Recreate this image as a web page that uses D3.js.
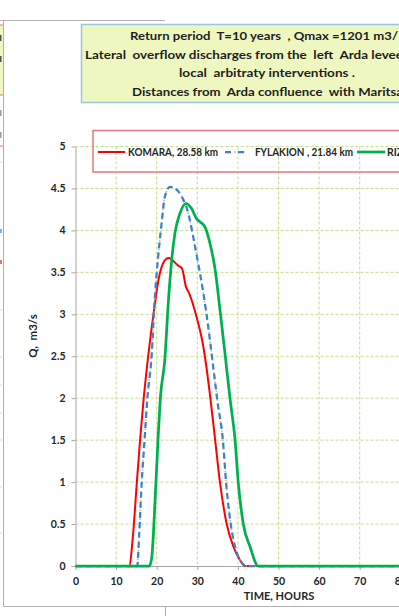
<!DOCTYPE html>
<html>
<head>
<meta charset="utf-8">
<script src="https://cdn.jsdelivr.net/npm/d3@7"></script>
<style>
  body { margin: 0; background: #fff; overflow: hidden; }
  svg { display: block; font-family: Lato, "Liberation Sans", sans-serif; }
  text { white-space: pre; }
</style>
</head>
<body>
<script>
'use strict';

// title lines (only the part that shows inside the window)
const titleLines = [
  'Return period  T=10 years  , Qmax =1201 m3/',
  'Lateral  overflow discharges from the  left  Arda levee',
  'local  arbitraty interventions .',
  'Distances from  Arda confluence  with Maritsa'
];
const legendNames = ['KOMARA, 28.58 km', 'FYLAKION , 21.84 km', 'RIZIA'];
const xTicks = [0, 10, 20, 30, 40, 50, 60, 70, 80];
const yTicks = [0, 0.5, 1, 1.5, 2, 2.5, 3, 3.5, 4, 4.5, 5];

// KOMARA, 28.58 km
const komaraTime = [0, 13.2, 14.2, 15.1, 15.9, 16.8, 17.9, 19.2, 20.6, 21.8, 22.9, 25.3, 26.2, 27.2, 28.0, 29.8, 31.5, 33.1, 34.4, 35.6, 37.2, 38.9, 40.5, 41.8, 80];
const komaraQ    = [0, 0, 0.39, 0.99, 1.5, 2.0, 2.5, 3.0, 3.45, 3.63, 3.67, 3.58, 3.55, 3.33, 3.25, 2.97, 2.61, 2.05, 1.5, 0.99, 0.51, 0.23, 0.07, 0, 0];

// FYLAKION , 21.84 km
const fylakionTime = [0, 15.2, 15.7, 16.3, 17.0, 17.7, 18.8, 19.4, 20.0, 20.6, 21.2, 22.0, 23.3, 24.5, 26.2, 27.8, 29.0, 30.2, 31.5, 32.7, 33.9, 35.0, 36.3, 37.1, 38.2, 39.3, 40.5, 42.2, 80];
const fylakionQ    = [0, 0, 0.39, 0.99, 1.5, 2.0, 2.54, 3.09, 3.49, 3.81, 4.08, 4.40, 4.52, 4.50, 4.40, 4.20, 3.92, 3.61, 3.25, 2.85, 2.38, 1.95, 1.5, 0.99, 0.51, 0.23, 0.07, 0, 0];

// RIZIA
const riziaTime = [0, 18.2, 18.8, 19.2, 19.6, 20.0, 20.4, 20.9, 22.0, 22.9, 23.7, 24.5, 25.7, 27.2, 28.6, 29.8, 30.7, 31.9, 33.1, 34.4, 35.6, 36.8, 38.1, 39.3, 40.1, 41.3, 43.0, 45.0, 80];
const riziaQ    = [0, 0, 0.11, 0.39, 0.79, 1.18, 1.58, 2.0, 2.46, 3.17, 3.65, 3.97, 4.20, 4.32, 4.26, 4.14, 4.10, 4.04, 3.85, 3.53, 3.05, 2.54, 1.98, 1.50, 0.99, 0.51, 0.23, 0, 0];

(function() {

  const svg = d3.select('body')
    .append('svg')
    .attr('width', 399)
    .attr('height', 616);

  const x = d3.scaleLinear().domain([0, 80]).range([75.5, 400.3]);
  const y = d3.scaleLinear().domain([0, 5]).range([566, 146.5]);

  drawFrame();
  drawGrid();
  drawAxes();
  drawSeries();
  drawTitle();
  drawLegend();

  function drawFrame() {
    // bits of the neighbouring chart on the left
    svg.append('rect').attr('x', 0).attr('y', 25).attr('width', 3).attr('height', 70).attr('fill', '#eff7c1');
    [25, 95, 146].forEach((yy) => {
      svg.append('line').attr('x1', 0).attr('x2', 3).attr('y1', yy).attr('y2', yy)
        .attr('stroke', '#e4797b').attr('stroke-width', 1);
    });
    [[35, '#555'], [56, '#555'], [110, '#999'], [132, '#999']].forEach((d) => {
      svg.append('rect').attr('x', 0).attr('y', d[0]).attr('width', 1.5).attr('height', 6).attr('fill', d[1]);
    });
    [[229, '#7fb0e0'], [260, '#e87070']].forEach((d) => {
      svg.append('rect').attr('x', 0).attr('y', d[0]).attr('width', 2).attr('height', 4).attr('fill', d[1]);
    });
    [162, 310, 357, 385, 413, 440, 487, 533].forEach((yy) => {
      svg.append('line').attr('x1', 0).attr('x2', 2).attr('y1', yy).attr('y2', yy)
        .attr('stroke', '#d2e9ae').attr('stroke-width', 1);
    });

    // panel border
    svg.append('path')
      .attr('d', 'M0,20.5H165 M3.5,20V606.5H399 M165.5,606V616')
      .attr('fill', 'none')
      .attr('stroke', '#b0b0b0')
      .attr('stroke-width', 1);
  }

  function drawGrid() {
    svg.append('g').selectAll('line')
      .data(xTicks.filter((d) => d > 0))
      .enter()
      .append('line')
        .attr('x1', (d) => x(d)).attr('x2', (d) => x(d))
        .attr('y1', y(5)).attr('y2', y(0))
        .attr('stroke', '#c3e08a')
        .attr('stroke-width', 1)
        .attr('stroke-dasharray', '3,2');

    svg.append('g').selectAll('line')
      .data(yTicks.filter((d) => d > 0))
      .enter()
      .append('line')
        .attr('x1', x(0)).attr('x2', 400)
        .attr('y1', (d) => y(d)).attr('y2', (d) => y(d))
        .attr('stroke', '#c3e08a')
        .attr('stroke-width', 1)
        .attr('stroke-dasharray', '3,2');
  }

  function drawAxes() {
    const yAxis = d3.axisLeft(y)
      .tickValues(yTicks)
      .tickSize(4)
      .tickSizeOuter(0)
      .tickPadding(6)
      .tickFormat(d3.format(''));
    const gy = svg.append('g')
      .attr('transform', 'translate(' + x(0) + ',0)')
      .call(yAxis);

    const xAxis = d3.axisBottom(x)
      .tickValues(xTicks)
      .tickSize(4)
      .tickSizeOuter(0)
      .tickPadding(8);
    const gx = svg.append('g')
      .attr('transform', 'translate(0,' + y(0) + ')')
      .call(xAxis);

    [gx, gy].forEach((g) => {
      g.select('.domain').attr('stroke', '#a6a6a6');
      g.selectAll('.tick line').attr('stroke', '#a6a6a6');
      g.selectAll('.tick text')
        .attr('fill', '#262626')
        .style('font-size', '10.5px')
        .style('font-weight', 'bold')
        .style('font-family', 'Lato, sans-serif');
    });

    svg.append('text')
      .attr('x', 279)
      .attr('y', 600)
      .attr('text-anchor', 'middle')
      .attr('fill', '#262626')
      .style('font-size', '11px')
      .style('font-weight', 'bold')
      .text('TIME, HOURS');

    svg.append('text')
      .attr('transform', 'translate(37, 336)rotate(-90)')
      .attr('text-anchor', 'middle')
      .attr('fill', '#262626')
      .style('font-size', '11.5px')
      .style('font-weight', 'bold')
      .text('Q,  m3/s');
  }

  function toPoints(times, values) {
    return times.map((t, i) => ({ t: t, q: values[i] }));
  }

  function drawSeries() {
    const line = d3.line()
      .x((d) => x(d.t))
      .y((d) => y(d.q))
      .curve(d3.curveMonotoneX);

    const komara = toPoints(komaraTime, komaraQ);
    const fylakion = toPoints(fylakionTime, fylakionQ);
    const rizia = toPoints(riziaTime, riziaQ);

    svg.append('path').datum(komara)
      .attr('d', line)
      .attr('fill', 'none')
      .attr('stroke', '#ff0000')
      .attr('stroke-width', 2);

    svg.append('path').datum(fylakion)
      .attr('d', line)
      .attr('fill', 'none')
      .attr('stroke', '#f4a460')
      .attr('stroke-width', 1.5)
      .attr('stroke-dasharray', '1.5,3');

    svg.append('path').datum(fylakion)
      .attr('d', line)
      .attr('fill', 'none')
      .attr('stroke', '#3585d0')
      .attr('stroke-width', 2.25)
      .attr('stroke-dasharray', '6,4');

    svg.append('path').datum(rizia)
      .attr('d', line)
      .attr('fill', 'none')
      .attr('stroke', '#00b050')
      .attr('stroke-width', 2.75);
  }

  function drawTitle() {
    svg.append('rect')
      .attr('x', 81.5)
      .attr('y', 24.5)
      .attr('width', 340)
      .attr('height', 78)
      .attr('fill', '#eff7c1')
      .attr('stroke', '#9cc2e5')
      .attr('stroke-width', 1.5);

    const pos = [[130, 40, 268], [85, 58.5, 318], [179, 77, 176], [132, 95.5, 271]];
    titleLines.forEach((t, i) => {
      svg.append('text')
        .attr('x', pos[i][0])
        .attr('y', pos[i][1])
        .attr('textLength', pos[i][2])
        .attr('lengthAdjust', 'spacingAndGlyphs')
        .attr('fill', '#1f1f1f')
        .style('font-size', '12px')
        .style('font-weight', 'bold')
        .text(t);
    });
  }

  function drawLegend() {
    svg.append('rect')
      .attr('x', 93)
      .attr('y', 130.5)
      .attr('width', 340)
      .attr('height', 41.5)
      .attr('fill', 'none')
      .attr('stroke', '#e4797b')
      .attr('stroke-width', 1.5);

    const ly = 152;
    svg.append('line').attr('x1', 98).attr('x2', 125).attr('y1', ly).attr('y2', ly)
      .attr('stroke', '#ff0000').attr('stroke-width', 2);

    svg.append('line').attr('x1', 225).attr('x2', 246).attr('y1', ly).attr('y2', ly)
      .attr('stroke', '#f4a460').attr('stroke-width', 1.5).attr('stroke-dasharray', '1.5,3');
    svg.append('line').attr('x1', 225).attr('x2', 246).attr('y1', ly).attr('y2', ly)
      .attr('stroke', '#3585d0').attr('stroke-width', 2.25).attr('stroke-dasharray', '6,7');

    svg.append('line').attr('x1', 357).attr('x2', 385).attr('y1', ly).attr('y2', ly)
      .attr('stroke', '#00b050').attr('stroke-width', 2.75);

    const lpos = [[128, 90], [255, 98], [387, null]];
    legendNames.forEach((name, i) => {
      const t = svg.append('text')
        .attr('x', lpos[i][0])
        .attr('y', 155.5)
        .attr('fill', '#262626')
        .style('font-size', '10.5px')
        .style('font-weight', 'bold')
        .text(name);
      if (lpos[i][1]) {
        t.attr('textLength', lpos[i][1]).attr('lengthAdjust', 'spacingAndGlyphs');
      }
    });
  }

})();
</script>
</body>
</html>
